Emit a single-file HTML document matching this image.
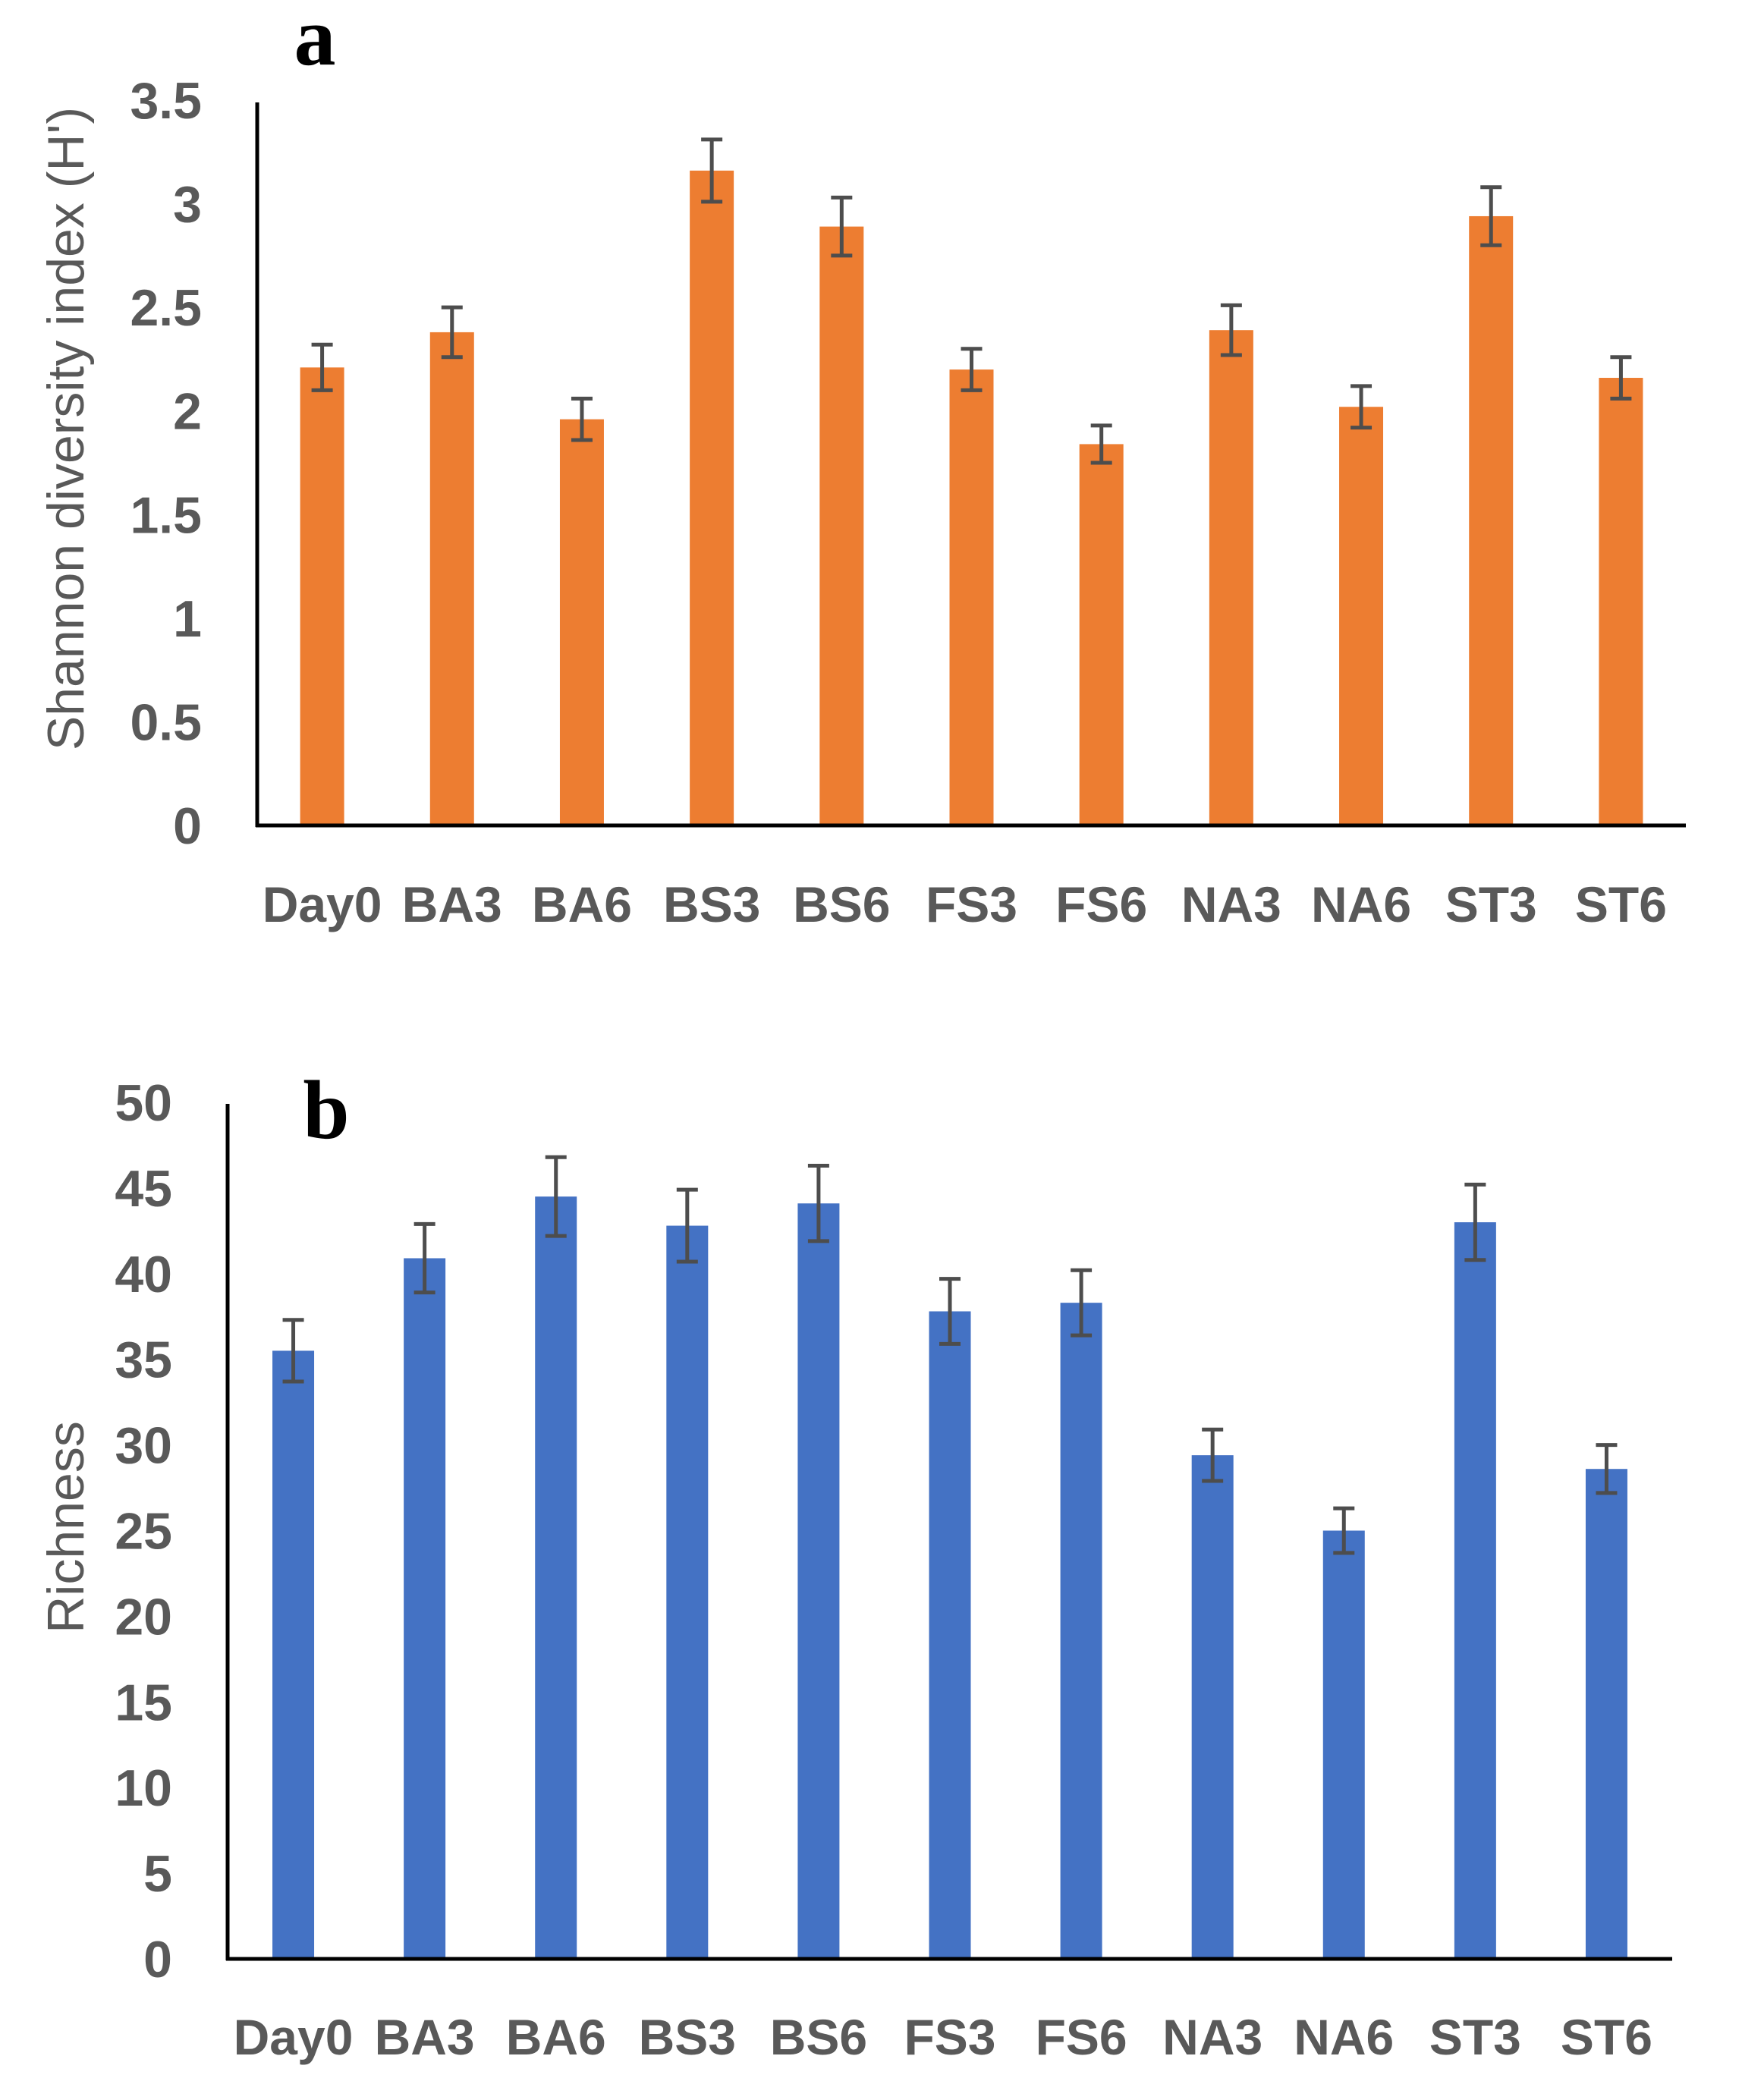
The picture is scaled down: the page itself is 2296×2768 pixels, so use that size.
<!DOCTYPE html>
<html><head><meta charset="utf-8"><style>
html,body{margin:0;padding:0;background:#fff;}
svg{display:block;}
text{font-family:"Liberation Sans","DejaVu Sans",sans-serif;}
text.serif{font-family:"Liberation Serif","DejaVu Serif",serif;}
</style></head><body>
<svg id="chart" width="2296" height="2768" viewBox="0 0 2296 2768" xmlns="http://www.w3.org/2000/svg"></svg>
<script>
const categories = ["Day0","BA3","BA6","BS3","BS6","FS3","FS6","NA3","NA6","ST3","ST6"];
const shannonValues = [2.21,2.38,1.96,3.16,2.89,2.20,1.84,2.39,2.02,2.94,2.16];
const shannonErrors = [0.11,0.12,0.10,0.15,0.14,0.10,0.09,0.12,0.10,0.14,0.10];
const shannonTicks = ["0","0.5","1","1.5","2","2.5","3","3.5"];
const richnessValues = [35.5,40.9,44.5,42.8,44.1,37.8,38.3,29.4,25.0,43.0,28.6];
const richnessErrors = [1.8,2.0,2.3,2.1,2.2,1.9,1.9,1.5,1.3,2.2,1.4];
const richnessTicks = ["0","5","10","15","20","25","30","35","40","45","50"];

const NS="http://www.w3.org/2000/svg";
const svg=document.getElementById('chart');
function mk(tag,attrs,parent){const e=document.createElementNS(NS,tag);for(const k in attrs)e.setAttribute(k,attrs[k]);(parent||svg).appendChild(e);return e;}

function drawPanel(cfg){
  const g=mk('g',{});
  
  
  const y=v=>cfg.base-(v/cfg.max)*(cfg.base-cfg.top);
  const step=(cfg.right-cfg.left)/categories.length;
  const x=i=>cfg.left+step*(i+0.5);
  cfg.ticks.forEach(t=>{
    const tx=mk('text',{x:cfg.tickX,y:y(parseFloat(t))+24,'text-anchor':'end','font-size':68,'font-weight':'bold',fill:'#595959'},g);
    tx.textContent=t;
    
    
  });
  cfg.values.forEach((v,i)=>{
    const r=mk('rect',{x:x(i)-cfg.barW/2,y:y(v),width:cfg.barW,height:cfg.base-y(v),fill:cfg.color},g);
    
    
    const e=cfg.errors[i];
    const eb=mk('g',{stroke:'#4d4d4d','stroke-width':5,fill:'none'},g);
    
    
    mk('line',{x1:x(i),x2:x(i),y1:y(v+e),y2:y(v-e)},eb);
    mk('line',{x1:x(i)-14,x2:x(i)+14,y1:y(v+e),y2:y(v+e)},eb);
    mk('line',{x1:x(i)-14,x2:x(i)+14,y1:y(v-e),y2:y(v-e)},eb);
    const lb=mk('text',{x:x(i),y:cfg.labelY,'text-anchor':'middle','font-size':66,'font-weight':'bold',fill:'#595959'},g);
    lb.textContent=categories[i];
    
    
  });
  const ya=mk('line',{x1:cfg.left,x2:cfg.left,y1:cfg.axisTop,y2:cfg.base+2,stroke:'#000','stroke-width':5},g);
  
  
  const xa=mk('line',{x1:cfg.left-2,x2:cfg.right,y1:cfg.base,y2:cfg.base,stroke:'#000','stroke-width':5},g);
  
  
  const t=mk('text',{x:0,y:0,transform:`translate(${cfg.titleX},${cfg.titleY}) rotate(-90)`,'text-anchor':'middle','font-size':68,fill:'#595959'},g);
  t.textContent=cfg.title;
  
  
  const p=mk('text',{class:'serif',x:cfg.letterX,y:cfg.letterY,'text-anchor':'middle','font-size':110,'font-weight':'bold',fill:'#000',style:'font-family:"Liberation Serif","DejaVu Serif",serif'},g);
  p.textContent=cfg.letter;
  
  
}

drawPanel({name:'shannon-chart',values:shannonValues,errors:shannonErrors,ticks:shannonTicks,max:3.5,
  left:339,right:2222,base:1088,top:132,axisTop:135,barW:58,color:'#ED7D31',tickX:266,
  labelY:1215,title:"Shannon diversity index (H')",titleX:110,titleY:565,letter:'a',letterX:415,letterY:85});
drawPanel({name:'richness-chart',values:richnessValues,errors:richnessErrors,ticks:richnessTicks,max:50,
  left:300,right:2204,base:2582,top:1453,axisTop:1455,barW:55,color:'#4472C4',tickX:227,
  labelY:2708,title:"Richness",titleX:110,titleY:2013,letter:'b',letterX:430,letterY:1500});
</script>
</body></html>
